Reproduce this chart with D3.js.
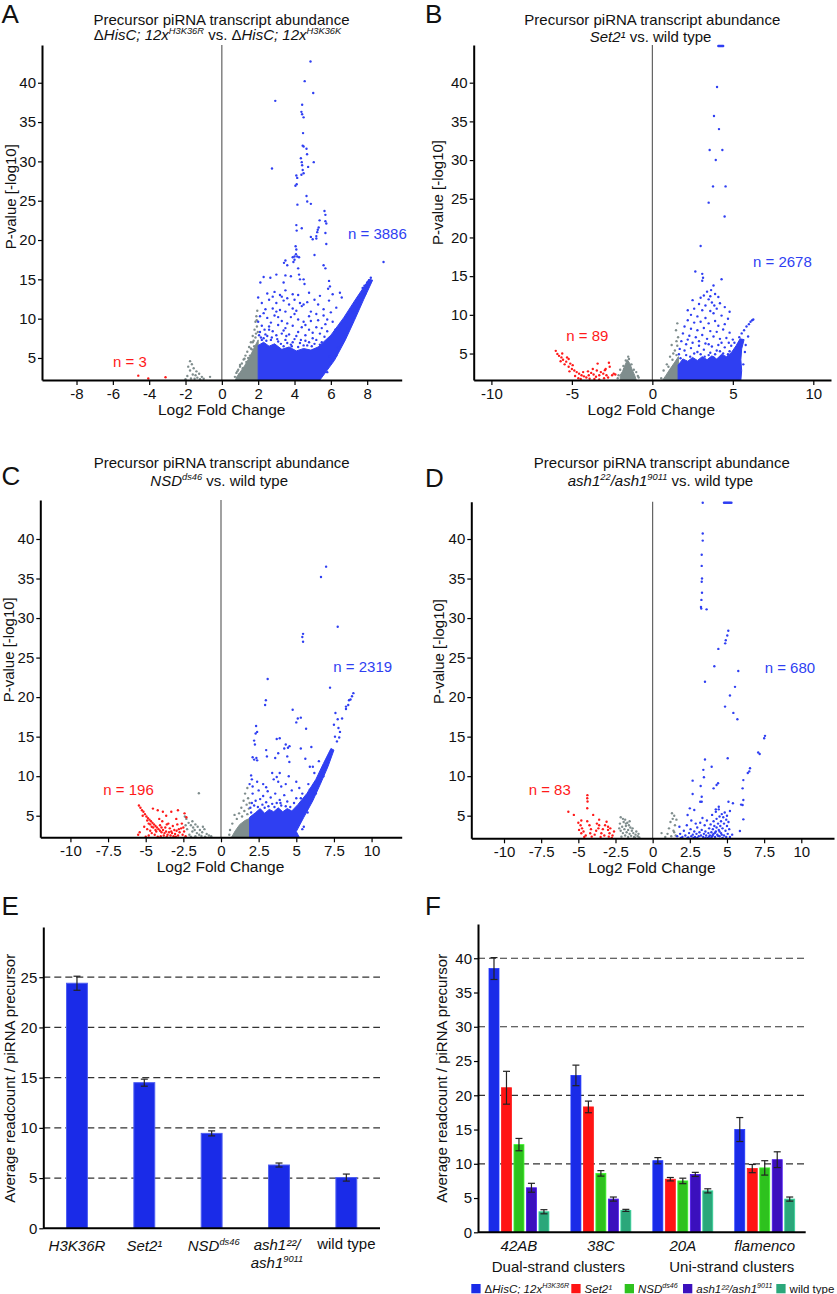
<!DOCTYPE html>
<html><head><meta charset="utf-8">
<script src="https://cdn.jsdelivr.net/npm/d3@7"></script>
<style>body{margin:0;background:#fff}svg{display:block}text{font-family:"Liberation Sans",Arial,Helvetica,sans-serif;fill:#111}</style>
</head><body><svg id="c" width="837" height="1294"></svg>
<script>
// ---------------- DATA ----------------
const yTicksVolcano = [5,10,15,20,25,30,35,40];
const xTicksA = [-8,-6,-4,-2,0,2,4,6,8];
const xTicksB = [-10,-5,0,5,10];
const xTicksCD = [-10,-7.5,-5,-2.5,0,2.5,5,7.5,10];

// Panel A (log2FC, -log10 p)
const blueDenseA = [[2.0,2.2],[5.4,2.2],[6.2,4.7],[6.8,7.3],[7.3,9.8],[7.8,12.4],[8.3,14.9],[8.1,15.0],[7.4,12.6],[6.7,10.1],[6.0,7.9],[5.3,6.4],[4.9,6.0],[4.5,6.2],[4.1,5.9],[3.7,6.4],[3.3,6.1],[2.9,6.8],[2.6,6.5],[2.3,7.0],[2.0,6.6]];
const grayDenseA = [[0.75,2.2],[2.0,2.2],[2.0,7.3],[1.8,6.4],[1.55,5.2],[1.25,4.0],[0.98,3.1],[0.82,2.6]];
const blueA = [[4.88,42.7],[4.56,40.2],[5.03,38.7],[2.94,37.7],[4.42,37.2],[4.38,36.3],[4.42,36.0],[4.5,35.6],[4.47,33.6],[4.45,32.0],[4.5,31.9],[4.66,31.6],[4.69,30.9],[5.06,29.9],[2.76,29.1],[4.35,30.4],[4.4,29.9],[4.42,29.5],[4.45,28.9],[4.5,28.5],[4.38,28.3],[4.1,28.2],[4.15,27.9],[4.12,27.1],[4.05,26.9],[4.75,29.3],[4.16,24.5],[4.66,25.6],[4.7,24.9],[4.9,24.6],[5.65,23.7],[5.7,23.2],[5.7,22.4],[5.75,22.1],[5.38,22.5],[5.33,21.6],[5.28,21.3],[5.25,21.0],[5.2,20.5],[4.1,21.9],[4.12,21.2],[4.4,21.5],[4.9,20.4],[5.0,20.1],[5.2,20.2],[5.7,20.9],[5.75,19.5],[4.06,19.2],[4.1,18.8],[4.08,18.2],[4.0,17.5],[3.94,17.2],[3.9,17.8],[4.0,17.9],[4.15,17.9],[4.25,17.8],[3.6,16.8],[3.42,17.1],[3.5,17.4],[5.1,18.1],[5.6,16.8],[5.7,16.4],[4.2,16.4],[4.25,15.6],[4.3,15.0],[8.9,17.2],[8.2,15.2],[8.1,14.9],[8.0,14.6],[7.85,14.2],[7.75,13.9],[2.12,14.6],[2.3,15.3],[2.67,15.2],[3.0,15.6],[3.4,14.6],[3.5,15.5],[3.8,15.4],[4.5,15.0],[4.55,14.4],[5.9,14.8],[5.95,14.1],[5.85,13.8],[6.5,13.3],[2.0,12.7],[2.9,13.4],[3.2,13.0],[3.3,12.8],[3.4,12.3],[3.6,12.6],[3.9,13.1],[4.0,12.4],[4.3,12.0],[4.5,11.8],[2.4,11.2],[2.8,11.3],[3.0,10.9],[3.2,11.1],[3.5,10.9],[3.9,11.3],[4.1,11.0],[4.4,11.6],[4.7,12.1],[5.1,12.4],[5.3,11.8],[5.2,10.6],[4.9,10.9],[2.1,10.3],[2.5,10.1],[2.9,10.4],[3.3,9.7],[3.8,10.2],[4.2,9.9],[4.5,9.6],[4.9,9.7],[5.3,9.8],[5.6,10.4],[2.2,9.1],[2.6,9.0],[3.1,9.2],[3.5,8.8],[3.9,9.1],[4.4,8.9],[4.8,8.6],[5.2,8.9],[5.7,9.3],[6.1,9.6],[2.1,8.3],[2.4,8.0],[2.8,8.4],[3.0,7.9],[3.3,8.1],[3.7,8.0],[4.1,7.8],[4.6,7.9],[5.0,7.5],[5.4,8.1],[5.8,8.4],[2.3,7.5],[2.7,7.3],[3.1,7.1],[3.5,7.3],[3.9,7.0],[4.3,6.9],[4.7,6.6],[5.1,6.8],[5.5,7.0],[2.5,7.8],[3.4,6.5],[3.8,6.7],[4.2,6.4],[4.5,6.6],[4.0,7.4],[4.6,7.2],[3.6,6.9],[2.2,12.0],[2.6,12.4],[3.7,11.8],[3.0,12.0],[5.6,11.2],[6.0,10.8],[5.9,12.3],[6.3,11.4],[6.6,12.7],[6.4,6.3],[6.9,8.7],[7.4,11.3],[7.9,13.2],[6.0,4.4],[5.8,3.2],[2.05,7.9],[2.35,8.6],[2.2,7.3],[3.05,7.4],[4.95,6.5],[5.65,7.7],[6.25,8.6],[6.55,9.4],[2.15,7.6],[2.45,7.2],[2.75,7.6],[3.25,6.8],[3.55,7.8],[3.85,6.5],[4.35,7.3],[4.8,7.0],[5.2,7.3],[5.4,6.7],[2.6,8.6],[3.4,8.5],[4.2,8.3],[5.0,8.2],[2.0,9.6],[2.7,9.5],[3.6,9.4],[4.6,9.2],[5.5,8.8],[2.3,10.7],[3.1,10.2],[4.0,10.6],[4.8,10.3],[5.8,9.9],[2.5,13.2],[3.5,13.6],[4.2,13.0],[2.8,12.8],[4.8,13.3],[5.4,12.9],[6.1,13.1],[7.2,10.8],[6.7,8.0],[5.95,5.2],[6.3,5.3],[7.6,12.3],[8.0,13.8]];
const grayA = [[1.95,11.0],[1.9,10.3],[1.85,9.6],[1.93,9.0],[1.8,8.6],[1.88,8.1],[1.7,7.8],[1.75,7.2],[1.6,7.0],[1.5,6.4],[1.65,6.1],[1.4,5.8],[1.3,5.3],[1.45,5.0],[1.2,4.8],[1.1,4.3],[1.0,3.9],[0.9,3.5],[0.8,3.1],[0.72,2.6],[0.95,2.9],[1.15,3.7],[1.35,4.5],[1.55,5.3],[1.78,6.5],[1.98,8.3],[1.92,9.8],[1.6,6.2],[1.25,4.9],[1.0,4.1],[1.7,7.0],[1.85,7.6],[0.85,3.3],[-1.75,4.6],[-1.65,4.2],[-1.85,3.9],[-1.55,3.7],[-1.75,3.4],[-1.4,3.3],[-1.25,3.0],[-1.6,2.9],[-1.9,2.7],[-1.1,2.6],[-1.35,2.5],[-1.5,2.35],[-0.65,2.6],[-1.0,2.35],[-1.2,2.3],[-1.7,2.4],[-2.0,2.3],[-1.45,2.8]];
const redA = [[-4.6,2.75],[-4.05,2.4],[-3.1,2.55]];

// Panel B
const blueDenseB = [[1.6,1.58],[5.5,1.58],[5.55,2.8],[5.5,4.2],[5.55,5.6],[5.7,6.8],[5.45,6.9],[5.2,6.0],[4.9,5.1],[4.6,4.6],[4.3,4.9],[4.0,4.3],[3.7,4.7],[3.4,4.2],[3.1,4.6],[2.8,4.1],[2.5,4.5],[2.2,4.0],[1.9,4.3],[1.6,3.5]];
const grayDenseB = [[0.65,1.58],[1.62,1.58],[1.62,4.6],[1.4,3.9],[1.1,3.0],[0.85,2.2]];
const grayDenseB2 = [[-2.0,1.58],[-1.0,1.58],[-1.1,2.2],[-1.25,2.9],[-1.4,3.7],[-1.55,4.2],[-1.7,3.5],[-1.85,2.7],[-2.0,2.2]];
const blueB = [[4.02,39.45],[3.83,35.7],[4.14,34.0],[3.56,31.3],[4.35,31.3],[3.94,30.0],[3.77,26.6],[4.55,26.6],[3.5,24.5],[4.49,22.7],[3.0,18.9],[2.67,15.6],[3.1,15.3],[3.15,14.8],[3.1,14.4],[4.3,14.6],[3.8,13.8],[3.65,13.2],[3.4,13.0],[3.2,12.5],[3.9,12.7],[4.1,12.3],[3.0,12.2],[3.5,12.0],[3.7,11.6],[2.9,11.4],[3.3,11.2],[4.2,11.5],[4.5,11.0],[2.6,10.8],[3.1,10.6],[3.6,10.5],[4.0,10.8],[3.8,10.2],[2.4,10.0],[2.8,9.8],[3.3,9.6],[4.3,9.9],[4.7,9.5],[2.2,9.3],[2.6,9.0],[3.0,9.1],[3.5,8.9],[3.9,9.2],[4.1,8.6],[4.5,8.8],[2.0,8.5],[2.4,8.2],[2.8,8.0],[3.2,8.3],[3.6,7.9],[4.0,7.8],[4.4,8.1],[4.8,7.7],[1.9,7.6],[2.3,7.3],[2.7,7.1],[3.1,7.4],[3.4,6.9],[3.8,7.2],[4.2,6.9],[4.6,7.0],[5.0,6.8],[1.8,6.6],[2.1,6.2],[2.5,6.4],[2.9,6.0],[3.3,6.3],[3.7,5.9],[4.1,6.1],[4.5,5.8],[4.9,6.0],[2.0,5.4],[2.4,5.7],[2.8,5.2],[3.2,5.5],[3.6,5.1],[4.0,5.4],[4.4,5.0],[4.8,5.3],[5.4,7.1],[5.55,7.6],[5.7,8.0],[5.85,8.5],[6.0,8.8],[6.1,9.1],[6.2,9.3],[6.27,9.4],[5.3,1.8],[2.2,10.6],[3.6,12.4],[4.8,10.4],[2.5,11.9],[3.85,11.2],[5.75,5.2],[5.8,6.1],[5.65,3.6],[1.7,5.6],[1.65,4.9],[5.95,7.2],[2.1,4.8],[2.6,5.0],[3.0,4.9],[3.5,4.8],[3.9,4.9],[4.2,5.3],[4.7,4.9],[5.1,6.4],[1.75,4.4],[2.35,4.6],[3.25,4.6],[3.8,4.5],[4.45,4.5],[2.9,6.6],[3.5,6.2],[4.3,6.4],[2.2,6.8],[4.75,6.4]];
const grayB = [[1.55,8.9],[1.47,8.0],[1.6,7.1],[1.2,6.1],[1.4,5.4],[1.1,4.6],[1.5,6.6],[1.3,5.0],[0.9,3.6],[0.7,2.8],[1.55,6.0],[0.55,1.8],[1.25,4.2],[1.5,4.8],[1.0,3.3],[-2.1,2.2],[-2.15,1.8],[-1.0,2.6],[-0.85,1.9],[-1.3,3.6],[-1.8,3.4],[-1.5,4.6],[-1.65,4.1],[-2.0,2.9],[-1.15,2.9],[-0.9,2.1],[-1.45,4.3],[-1.75,3.0]];
const redB = [[-6.0,5.35],[-5.9,4.95],[-5.8,4.7],[-5.65,4.5],[-5.55,4.2],[-5.2,4.3],[-5.35,3.95],[-5.1,3.7],[-4.95,3.5],[-5.2,3.3],[-5.0,3.0],[-4.85,2.8],[-4.7,2.6],[-4.55,2.4],[-4.4,2.2],[-4.25,2.05],[-4.1,1.9],[-3.95,2.2],[-3.8,2.5],[-3.65,2.3],[-3.5,2.0],[-3.4,3.7],[-3.3,2.2],[-3.2,2.6],[-3.05,2.4],[-2.95,2.85],[-2.85,2.2],[-2.7,3.8],[-2.65,3.3],[-2.5,2.2],[-2.4,2.4],[-2.3,2.3],[-4.6,1.8],[-4.8,2.1],[-5.45,3.6],[-5.7,4.0],[-4.3,2.6],[-3.9,1.75],[-3.6,1.7],[-3.0,1.8],[-2.75,1.9],[-5.15,2.7],[-4.45,1.7],[-3.3,1.65],[-2.9,3.0],[-5.6,5.0],[-5.3,4.5],[-4.0,2.7],[-3.7,3.0],[-3.45,2.8]];
const capB = [4.1,4.15,4.2,4.25,4.3,4.35,4.4];

// Panel C
const blueDenseC = [[1.9,2.27],[5.2,2.27],[5.0,3.0],[5.5,4.8],[6.1,6.9],[6.6,9.0],[7.1,11.2],[7.5,13.3],[7.3,13.5],[6.8,11.6],[6.3,9.6],[5.7,7.8],[5.1,6.4],[4.7,5.6],[4.4,5.9],[4.1,5.5],[3.8,6.0],[3.5,5.5],[3.2,5.8],[2.9,5.3],[2.6,5.9],[2.3,5.4],[1.9,4.8]];
const grayDenseC = [[0.7,2.27],[1.95,2.27],[1.95,4.7],[1.6,4.4],[1.25,3.9],[0.95,3.1]];
const blueC = [[6.98,36.5],[6.64,35.2],[7.75,28.9],[5.45,28.0],[5.4,27.6],[5.45,27.0],[3.1,22.3],[7.24,21.2],[8.79,20.5],[8.7,20.1],[8.6,19.7],[8.45,19.0],[8.3,18.5],[4.76,18.4],[2.98,19.6],[2.93,19.0],[2.33,16.35],[2.4,15.6],[2.3,15.4],[2.2,14.5],[2.25,14.0],[2.1,12.4],[2.2,12.1],[2.35,12.3],[2.4,12.0],[2.0,10.1],[2.05,9.6],[1.9,9.0],[2.1,8.7],[5.1,17.3],[5.0,16.8],[5.3,17.4],[5.65,16.0],[3.7,14.7],[3.9,14.8],[4.3,14.0],[4.45,13.6],[4.55,13.8],[4.2,13.5],[5.3,13.5],[5.6,12.2],[3.6,12.3],[3.8,12.9],[3.4,10.4],[3.5,9.6],[3.8,9.3],[3.0,13.3],[3.05,12.5],[6.0,13.7],[6.1,11.2],[5.9,11.2],[4.54,11.8],[4.4,12.5],[8.5,19.6],[8.3,18.8],[8.04,17.3],[7.8,16.1],[7.57,15.0],[7.6,18.0],[7.75,17.2],[7.5,16.5],[7.9,15.6],[7.7,14.4],[7.85,14.9],[5.4,3.3],[5.5,3.6],[2.1,7.8],[2.5,8.2],[2.8,7.5],[3.1,8.1],[3.3,7.3],[3.6,7.8],[3.9,7.0],[4.2,7.6],[2.3,6.9],[2.6,7.1],[3.0,6.7],[3.4,6.5],[3.7,6.6],[4.0,6.3],[4.4,6.8],[4.6,6.1],[2.2,6.3],[2.9,6.0],[3.7,9.9],[2.8,9.0],[3.0,8.6],[4.0,8.7],[4.3,9.0],[4.7,8.2],[2.4,9.3],[3.9,10.4],[4.5,10.0],[5.0,9.3],[5.2,8.5],[5.0,7.2],[1.95,6.0],[2.05,6.6],[5.4,7.8],[5.8,9.0],[6.2,10.4],[6.5,11.9],[5.75,5.4],[6.3,7.8],[6.8,10.0],[7.2,12.3],[2.45,6.1],[2.75,6.4],[3.15,6.2],[3.55,6.1],[3.95,6.6],[4.3,6.2],[4.85,6.6],[5.3,7.2],[2.0,5.4],[5.9,8.3]];
const grayC = [[1.6,7.8],[1.75,8.5],[1.8,7.2],[1.5,6.9],[1.7,6.4],[1.35,6.0],[1.55,5.6],[1.2,5.3],[1.85,5.9],[0.9,5.1],[1.05,4.6],[0.75,4.0],[0.6,3.2],[0.55,2.6],[1.9,6.6],[1.4,4.9],[1.75,5.2],[-1.47,7.85],[-2.3,4.6],[-2.15,4.1],[-2.0,3.8],[-1.85,3.5],[-1.7,3.9],[-1.55,3.6],[-1.4,3.2],[-1.25,2.9],[-1.1,3.3],[-0.95,2.7],[-0.8,2.5],[-1.6,2.8],[-1.9,3.0],[-2.1,2.6],[-2.25,3.3],[-1.3,2.45],[-1.7,2.4],[-0.65,2.4],[-2.4,4.9],[-2.35,3.8],[-1.75,3.2],[-1.05,2.35],[-2.0,2.35],[-1.45,2.6],[-1.2,3.6],[-1.9,4.3]];
const redC = [[-5.45,6.3],[-5.35,6.0],[-5.25,5.7],[-5.15,5.5],[-5.05,5.2],[-4.95,4.9],[-5.2,5.0],[-4.85,4.7],[-4.75,4.5],[-4.65,4.3],[-4.9,4.4],[-4.55,4.1],[-4.45,3.9],[-4.7,3.9],[-4.35,3.7],[-4.25,3.5],[-4.5,3.5],[-4.15,3.3],[-4.05,3.1],[-4.3,3.0],[-3.95,2.9],[-3.85,3.2],[-3.75,2.8],[-3.65,3.0],[-3.55,2.6],[-3.45,2.9],[-3.35,2.5],[-3.25,2.8],[-3.15,2.4],[-3.05,2.7],[-2.95,3.1],[-2.85,2.5],[-2.75,2.9],[-2.65,3.4],[-2.55,2.6],[-2.45,3.0],[-2.35,2.4],[-4.52,5.9],[-4.2,5.7],[-3.86,5.5],[-3.64,5.0],[-3.3,5.5],[-2.86,5.7],[-2.42,5.3],[-2.3,4.8],[-2.97,4.6],[-3.9,4.3],[-3.5,4.0],[-3.2,3.7],[-4.1,4.6],[-2.6,4.0],[-5.5,2.6],[-5.4,2.9],[-4.8,2.5],[-4.6,2.8],[-4.9,3.3],[-5.1,3.6],[-4.0,2.4],[-3.8,2.5],[-3.4,3.4],[-2.9,3.9],[-4.4,2.6],[-4.2,2.35],[-3.6,2.35],[-3.0,2.35],[-2.5,3.5],[-5.0,2.35],[-4.7,3.1],[-4.05,3.8],[-3.7,3.5],[-3.1,3.2],[-4.6,3.6],[-4.35,3.2],[-3.95,3.5],[-3.6,3.9],[-4.8,4.0],[-3.3,3.0],[-2.8,3.3]];

// Panel D
const blueD = [[3.37,40.7],[3.37,39.8],[3.3,38.0],[3.3,36.6],[3.32,35.0],[3.3,34.6],[3.32,33.2],[3.28,32.3],[3.25,31.4],[3.27,31.2],[3.63,31.1],[5.09,28.4],[5.02,27.8],[4.92,27.2],[4.88,26.8],[4.42,26.1],[4.15,23.9],[5.76,23.3],[3.52,21.95],[5.54,21.3],[5.2,20.2],[4.87,18.8],[5.43,18.0],[5.7,17.2],[7.56,15.1],[7.5,14.8],[7.1,13.0],[7.2,12.8],[6.55,11.0],[6.5,10.6],[6.4,10.4],[6.1,9.5],[6.05,8.46],[6.1,6.99],[6.05,6.35],[6.1,4.54],[5.87,3.06],[3.52,12.1],[5.05,12.26],[3.97,11.2],[3.41,10.8],[3.45,9.86],[2.69,9.43],[4.4,9.1],[4.3,8.88],[4.1,8.46],[3.23,8.76],[2.69,7.74],[3.3,7.4],[3.2,6.77],[3.3,6.77],[5.1,6.77],[2.5,5.93],[2.8,5.72],[2.35,5.09],[4.45,6.14],[4.25,5.8],[5.4,6.57],[5.95,6.4],[1.65,2.4],[1.8,3.6],[1.85,2.7],[2.0,2.3],[2.1,3.1],[2.2,2.5],[2.3,3.8],[2.35,2.2],[2.45,2.8],[2.55,3.3],[2.6,2.4],[2.7,2.6],[2.8,3.0],[2.85,2.3],[2.95,2.7],[3.0,3.5],[3.1,2.4],[3.15,2.9],[3.25,2.5],[3.3,3.2],[3.4,2.3],[3.45,2.7],[3.55,3.0],[3.6,2.5],[3.7,2.2],[3.75,2.8],[3.8,3.4],[3.85,2.5],[3.9,3.9],[3.95,2.9],[4.0,2.4],[4.05,3.3],[4.1,4.3],[4.1,2.7],[4.15,3.7],[4.2,2.3],[4.25,3.0],[4.3,4.6],[4.3,3.5],[4.35,2.6],[4.4,4.0],[4.45,3.2],[4.5,2.4],[4.5,4.9],[4.55,3.7],[4.6,2.8],[4.6,4.3],[4.65,5.2],[4.7,3.4],[4.75,4.8],[4.8,2.5],[4.8,4.0],[4.85,5.4],[4.9,3.1],[4.95,4.5],[5.0,3.7],[5.0,5.0],[5.05,2.7],[5.1,4.2],[5.15,3.3],[3.5,3.8],[3.2,4.1],[2.9,4.0],[2.6,4.4],[3.65,4.4],[3.35,4.7],[4.0,5.1],[4.25,5.5],[4.45,5.8],[5.2,5.6],[3.0,2.2],[2.4,2.25],[1.9,2.2],[3.95,2.2],[4.7,2.2],[5.2,2.3],[5.35,2.6],[4.95,2.3],[3.55,2.2],[2.75,2.2],[4.05,2.55],[4.4,2.45],[4.65,2.6],[4.2,2.85],[4.5,3.0],[3.8,2.35]];
const grayD = [[0.6,2.8],[1.3,5.3],[1.45,5.0],[1.35,4.6],[1.2,4.2],[1.5,3.8],[1.1,3.4],[1.4,3.1],[1.0,2.7],[1.55,2.5],[1.25,2.4],[0.85,2.3],[1.6,4.5],[1.45,2.9],[-2.15,4.8],[-2.0,4.6],[-1.85,4.5],[-1.95,4.2],[-2.2,4.0],[-1.7,4.1],[-1.6,3.8],[-1.8,3.7],[-2.05,3.6],[-1.5,3.5],[-1.9,3.3],[-1.65,3.2],[-1.4,3.1],[-2.15,3.1],[-1.75,2.9],[-1.3,2.8],[-1.55,2.7],[-2.0,2.8],[-1.15,2.6],[-1.45,2.45],[-1.85,2.5],[-1.0,2.4],[-1.25,2.3],[-1.65,2.3],[-2.1,2.35],[-0.9,2.25],[-1.35,3.4],[-1.1,3.0],[-1.8,4.0],[-1.55,4.3],[-2.25,3.4],[-0.95,2.7],[-1.2,2.25]];
const redD = [[-4.39,7.6],[-4.4,7.2],[-4.38,6.8],[-4.4,5.95],[-5.67,5.5],[-5.3,5.1],[-4.0,5.1],[-4.8,4.4],[-4.85,3.8],[-4.75,3.4],[-4.65,3.0],[-4.8,2.77],[-4.4,4.3],[-4.25,3.8],[-3.6,4.5],[-3.6,3.8],[-3.65,3.4],[-3.45,2.77],[-3.1,4.24],[-3.0,3.6],[-2.9,2.77],[-2.85,3.4],[-4.5,2.5],[-4.2,2.77],[-3.25,2.5],[-3.0,3.2],[-5.0,4.1],[-4.95,3.2],[-3.8,3.1],[-3.9,2.6],[-2.7,2.5],[-2.6,3.0],[-3.35,3.3],[-3.75,4.0],[-4.15,3.3],[-4.6,2.3],[-3.5,2.3],[-2.75,2.2],[-4.1,2.35],[-3.2,3.8],[-2.95,2.35]];
const capD = [3.37,4.8,4.87,4.94,5.01,5.08,5.15,5.22,5.3];

// Panel E (bar chart)
const eCategories = ['H3K36R','Set2¹','NSDds46','ash1²²/ash1⁹⁰¹¹','wild type'];
const eValues = [24.4,14.5,9.45,6.3,5.05];
const eErrors = [0.7,0.35,0.25,0.2,0.35];
const eTicks = [0,5,10,15,20,25];
const eGrid = [5,10,15,20,25];

// Panel F (grouped bar chart)
const fClusters = ['42AB','38C','20A','flamenco'];
const fGenotypes = ['ΔHisC; 12xH3K36R','Set2¹','NSDds46','ash1²²/ash1⁹⁰¹¹','wild type'];
const fH3K36R = [38.5,22.9,10.45,15.0];
const fH3K36Rerr = [1.6,1.5,0.45,1.75];
const fSet2 = [21.1,18.3,7.75,9.3];
const fSet2err = [2.4,0.85,0.25,0.6];
const fNSD = [12.8,8.6,7.5,9.4];
const fNSDerr = [0.9,0.4,0.4,1.05];
const fAsh1 = [6.5,4.85,8.45,10.6];
const fAsh1err = [0.65,0.3,0.3,1.15];
const fWT = [3.0,3.2,6.05,4.85];
const fWTerr = [0.3,0.15,0.3,0.3];
const fTicks = [0,5,10,15,20,25,30,35,40];
const fGrid = [10,20,30,40];

// ---------------- DRAWING ----------------
const BLUE = '#2f3ff2', RED = '#ff1a1a', GRAY = '#7f8d8d';
const svg = d3.select('#c');

function rich(t, segs, size) {
  let shift = 0;
  segs.forEach(s => {
    const target = s.sup ? -size * 0.4 : 0;
    t.append('tspan').attr('dy', (target - shift) + 'px')
      .attr('font-style', s.i ? 'italic' : 'normal')
      .attr('font-size', (s.sup ? size * 0.62 : size) + 'px')
      .text(s.t);
    shift = target;
  });
}
function label(x, y, segs, size, anchor, color) {
  const t = svg.append('text').attr('x', x).attr('y', y).attr('text-anchor', anchor || 'middle')
    .attr('font-size', size + 'px');
  if (color) t.style('fill', color);
  rich(t, segs, size);
  return t;
}
function ylabel(x, cy, txt) {
  svg.append('text').attr('transform', `translate(${x},${cy}) rotate(-90)`)
    .attr('text-anchor', 'middle').attr('font-size', '15px').text(txt);
}
function letter(x, y, L) {
  svg.append('text').attr('x', x).attr('y', y).attr('font-size', '26px').text(L);
}
function styleAxis(g) {
  g.attr('font-size', 15).attr('font-family', '"Liberation Sans",Arial,sans-serif');
  g.select('.domain').attr('stroke', '#000').attr('stroke-width', 2);
  g.selectAll('.tick line').attr('stroke', '#000').attr('stroke-width', 1.2);
  g.selectAll('.tick text').style('fill', '#111');
}

function volcano(p) {
  const g = svg.append('g');
  const x = d3.scaleLinear().domain(p.xd).range(p.xr);
  const y = d3.scaleLinear().domain(p.yd).range(p.yr);
  g.append('line').attr('x1', x(0)).attr('x2', x(0)).attr('y1', p.yr[1]).attr('y2', p.yr[0])
    .attr('stroke', '#555').attr('stroke-width', 1.1);
  const line = d3.line().x(d => x(d[0])).y(d => y(d[1])).curve(d3.curveLinearClosed);
  (p.dense || []).forEach(dd => g.append('path').attr('d', line(dd[0]))
    .attr('fill', dd[1]).attr('stroke', dd[1]).attr('stroke-width', 1).attr('stroke-linejoin', 'round'));
  const dots = (arr, c) => g.append('g').selectAll('circle').data(arr).join('circle')
    .attr('cx', d => x(d[0])).attr('cy', d => y(d[1])).attr('r', 1.2).attr('fill', c);
  dots(p.gray, GRAY); dots(p.blue, BLUE); dots(p.red, RED);
  if (p.caps) g.append('g').selectAll('circle').data(p.caps).join('circle')
    .attr('cx', d => x(d)).attr('cy', y(p.yd[1]) + 1).attr('r', 1.2).attr('fill', BLUE);
  const ax = g.append('g').attr('transform', `translate(0,${p.yr[0]})`)
    .call(d3.axisBottom(x).tickValues(p.xt).tickSize(5).tickSizeOuter(0).tickPadding(3).tickFormat(d => String(d)));
  styleAxis(ax);
  const ay = g.append('g').attr('transform', `translate(${p.xr[0]},0)`)
    .call(d3.axisLeft(y).tickValues(yTicksVolcano).tickSize(4).tickSizeOuter(0).tickPadding(2));
  styleAxis(ay);
}

const T1 = [{t: 'Precursor piRNA transcript abundance'}];

// A
volcano({xd: [-9.9, 9.9], xr: [42, 401.7], yd: [2.2, 44.8], yr: [380, 45], xt: xTicksA,
  dense: [[grayDenseA, GRAY], [blueDenseA, BLUE]], blue: blueA, gray: grayA, red: redA});
label(221.5, 24.7, T1, 15);
label(217.5, 40.3, [{t: 'Δ'}, {t: 'HisC; 12x', i: 1}, {t: 'H3K36R', i: 1, sup: 1}, {t: ' vs. '}, {t: 'Δ'}, {t: 'HisC; 12x', i: 1}, {t: 'H3K36K', i: 1, sup: 1}], 15);
label(221.7, 414.5, [{t: 'Log2 Fold Change'}], 15.5);
ylabel(16, 196.7, 'P-value [-log10]');
letter(1.5, 23, 'A');
label(348, 239, [{t: 'n = 3886'}], 15, 'start', BLUE);
label(113, 367, [{t: 'n = 3'}], 15, 'start', RED);

// B
volcano({xd: [-11.1, 11.1], xr: [473.7, 831], yd: [1.58, 44.87], yr: [380, 45], xt: xTicksB,
  dense: [[grayDenseB, GRAY], [grayDenseB2, GRAY], [blueDenseB, BLUE]], blue: blueB, gray: grayB, red: redB, caps: capB});
label(652.3, 24.7, T1, 15);
label(650.5, 42.4, [{t: 'Set2¹', i: 1}, {t: ' vs. wild type'}], 15);
label(651.3, 415, [{t: 'Log2 Fold Change'}], 15.5);
ylabel(442.5, 192.5, 'P-value [-log10]');
letter(425, 23, 'B');
label(753, 266.7, [{t: 'n = 2678'}], 15, 'start', BLUE);
label(566.3, 341.4, [{t: 'n = 89'}], 15, 'start', RED);

// C
volcano({xd: [-12, 12], xr: [40.3, 401.7], yd: [2.27, 44.93], yr: [837.3, 500], xt: xTicksCD,
  dense: [[grayDenseC, GRAY], [blueDenseC, BLUE]], blue: blueC, gray: grayC, red: redC});
label(221.7, 468, T1, 15);
label(219.2, 486.4, [{t: 'NSD', i: 1}, {t: 'ds46', i: 1, sup: 1}, {t: ' vs. wild type'}], 15);
label(220.5, 872, [{t: 'Log2 Fold Change'}], 15.5);
ylabel(13.5, 649.8, 'P-value [-log10]');
letter(1.5, 485, 'C');
label(333.3, 672.4, [{t: 'n = 2319'}], 15, 'start', BLUE);
label(103.3, 794.7, [{t: 'n = 196'}], 15, 'start', RED);

// D
volcano({xd: [-12.2, 12.2], xr: [471.3, 834], yd: [2.14, 44.72], yr: [838.3, 501.7], xt: xTicksCD,
  dense: [], blue: blueD, gray: grayD, red: redD, caps: capD});
label(661.8, 468, T1, 15);
label(660.5, 486.4, [{t: 'ash1', i: 1}, {t: '22', i: 1, sup: 1}, {t: '/ash1', i: 1}, {t: '9011', i: 1, sup: 1}, {t: ' vs. wild type'}], 15);
label(651.8, 872.5, [{t: 'Log2 Fold Change'}], 15.5);
ylabel(444, 651.5, 'P-value [-log10]');
letter(425, 486.7, 'D');
label(764.7, 673, [{t: 'n = 680'}], 15, 'start', BLUE);
label(528.7, 795, [{t: 'n = 83'}], 15, 'start', RED);

// E
(function () {
  const x = d3.scaleBand().domain(eCategories).range([43.3, 380]).paddingInner(0.69).paddingOuter(0.345);
  const y = d3.scaleLinear().domain([0, 30]).range([1228.3, 927]);
  const g = svg.append('g');
  g.selectAll('line.grid').data(eGrid).join('line').attr('x1', 43.3).attr('x2', 380)
    .attr('y1', d => y(d)).attr('y2', d => y(d)).attr('stroke', '#333').attr('stroke-width', 1.2).attr('stroke-dasharray', '7,4');
  const data = eCategories.map((c, i) => ({c, v: eValues[i], e: eErrors[i]}));
  g.selectAll('rect').data(data).join('rect').attr('x', d => x(d.c)).attr('width', x.bandwidth())
    .attr('y', d => y(d.v)).attr('height', d => y(0) - y(d.v)).attr('fill', '#1a2be8').attr('stroke', '#4d5ef2').attr('stroke-width', 1);
  const eb = g.selectAll('g.eb').data(data).join('g');
  eb.append('line').attr('x1', d => x(d.c) + x.bandwidth() / 2).attr('x2', d => x(d.c) + x.bandwidth() / 2)
    .attr('y1', d => y(d.v - d.e)).attr('y2', d => y(d.v + d.e)).attr('stroke', '#222').attr('stroke-width', 1.2);
  [-1, 1].forEach(s => eb.append('line').attr('x1', d => x(d.c) + x.bandwidth() / 2 - 3.5).attr('x2', d => x(d.c) + x.bandwidth() / 2 + 3.5)
    .attr('y1', d => y(d.v + s * d.e)).attr('y2', d => y(d.v + s * d.e)).attr('stroke', '#222').attr('stroke-width', 1.2));
  const ay = g.append('g').attr('transform', 'translate(43.3,0)').call(d3.axisLeft(y).tickValues(eTicks).tickSize(4).tickSizeOuter(0).tickPadding(2));
  styleAxis(ay);
  g.append('line').attr('x1', 43.3).attr('x2', 380).attr('y1', y(0)).attr('y2', y(0)).attr('stroke', '#000').attr('stroke-width', 2);
  const cx = c => x(c) + x.bandwidth() / 2;
  label(cx(eCategories[0]), 1250.7, [{t: 'H3K36R', i: 1}], 15);
  label(cx(eCategories[1]), 1250.7, [{t: 'Set2¹', i: 1}], 15);
  label(cx(eCategories[2]) + 2, 1250.7, [{t: 'NSD', i: 1}, {t: 'ds46', i: 1, sup: 1}], 15);
  label(cx(eCategories[3]) - 2, 1249.5, [{t: 'ash1²²/', i: 1}], 15);
  label(cx(eCategories[3]) - 2, 1268, [{t: 'ash1', i: 1}, {t: '9011', i: 1, sup: 1}], 15);
  label(cx(eCategories[4]), 1249, [{t: 'wild type'}], 15);
  ylabel(15, 1078.3, 'Average readcount / piRNA precursor');
  letter(1.5, 915, 'E');
})();

// F
(function () {
  const colors = ['#1a2be8', '#ff1414', '#2ec21e', '#3b10bd', '#2ba77a'];
  const series = [[fH3K36R, fH3K36Rerr], [fSet2, fSet2err], [fNSD, fNSDerr], [fAsh1, fAsh1err], [fWT, fWTerr]];
  const x0 = d3.scaleBand().domain(fClusters).range([478, 805.7]).padding(0);
  const x1 = d3.scaleBand().domain(fGenotypes).range([11, x0.bandwidth() - 11]).paddingInner(0.2);
  const y = d3.scaleLinear().domain([0, 45]).range([1232.3, 924]);
  const g = svg.append('g');
  g.selectAll('line.grid').data(fGrid).join('line').attr('x1', 478).attr('x2', 805.7)
    .attr('y1', d => y(d)).attr('y2', d => y(d)).attr('stroke', '#333').attr('stroke-width', 1.2).attr('stroke-dasharray', '7,4');
  const data = [];
  fGenotypes.forEach((gt, si) => fClusters.forEach((cl, ci) => data.push({gt, cl, si, v: series[si][0][ci], e: series[si][1][ci]})));
  const bx = d => x0(d.cl) + x1(d.gt);
  g.selectAll('rect.bar').data(data).join('rect').attr('x', bx).attr('width', x1.bandwidth())
    .attr('y', d => y(d.v)).attr('height', d => y(0) - y(d.v)).attr('fill', d => colors[d.si])
    .attr('stroke', d => d3.color(colors[d.si]).brighter(0.7)).attr('stroke-width', 0.8);
  const eb = g.selectAll('g.eb').data(data).join('g');
  const mx = d => bx(d) + x1.bandwidth() / 2;
  eb.append('line').attr('x1', mx).attr('x2', mx).attr('y1', d => y(d.v - d.e)).attr('y2', d => y(d.v + d.e)).attr('stroke', '#222').attr('stroke-width', 1.2);
  [-1, 1].forEach(s => eb.append('line').attr('x1', d => mx(d) - 3.5).attr('x2', d => mx(d) + 3.5)
    .attr('y1', d => y(d.v + s * d.e)).attr('y2', d => y(d.v + s * d.e)).attr('stroke', '#222').attr('stroke-width', 1.2));
  const ay = g.append('g').attr('transform', 'translate(478,0)').call(d3.axisLeft(y).tickValues(fTicks).tickSize(4).tickSizeOuter(0).tickPadding(2));
  styleAxis(ay);
  g.append('line').attr('x1', 478).attr('x2', 805.7).attr('y1', y(0)).attr('y2', y(0)).attr('stroke', '#000').attr('stroke-width', 2);
  const gc = c => x0(c) + x0.bandwidth() / 2;
  fClusters.forEach(c => label(gc(c), 1251.3, [{t: c, i: 1}], 15));
  label((gc(fClusters[0]) + gc(fClusters[1])) / 2 - 1.5, 1272.4, [{t: 'Dual-strand clusters'}], 15);
  label((gc(fClusters[2]) + gc(fClusters[3])) / 2 + 8, 1272.4, [{t: 'Uni-strand clusters'}], 15);
  ylabel(447, 1078.3, 'Average readcount / piRNA precursor');
  letter(425, 915, 'F');
  // legend
  const legX = [471.3, 571.3, 624.7, 683, 776.3];
  const legT = [
    [{t: 'Δ'}, {t: 'HisC; 12x', i: 1}, {t: 'H3K36R', i: 1, sup: 1}],
    [{t: 'Set2¹', i: 1}],
    [{t: 'NSD', i: 1}, {t: 'ds46', i: 1, sup: 1}],
    [{t: 'ash1²²/ash1', i: 1}, {t: '9011', i: 1, sup: 1}],
    [{t: 'wild type'}]];
  fGenotypes.forEach((gt, i) => {
    svg.append('rect').attr('x', legX[i]).attr('y', 1284).attr('width', 9.3).attr('height', 9.3).attr('fill', colors[i]);
    label(legX[i] + 13.3, 1292.5, legT[i], 11.5, 'start');
  });
})();
</script></body></html>
